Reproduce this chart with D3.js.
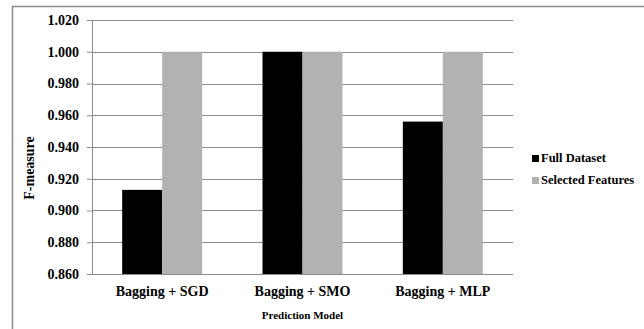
<!DOCTYPE html>
<html>
<head>
<meta charset="utf-8">
<script src="https://cdn.jsdelivr.net/npm/d3@7"></script>
<style>
  body { margin: 0; background: #fff; }
  svg text { font-family: 'Liberation Serif', 'Times New Roman', 'DejaVu Serif', serif !important; font-weight: bold; fill: #000; }
</style>
</head>
<body>
<div id="chart"></div>
<script>
// chart data
const categories = ['Bagging + SGD', 'Bagging + SMO', 'Bagging + MLP'];
const seriesNames = ['Full Dataset', 'Selected Features'];
const fullDataset = [0.913, 1.000, 0.956];
const selectedFeatures = [1.000, 1.000, 1.000];
const yTicks = [0.860, 0.880, 0.900, 0.920, 0.940, 0.960, 0.980, 1.000, 1.020];
const colors = ['#000000', '#b2b2b2'];

const width = 644, height = 329;
const margin = { left: 92, top: 20, right: 131, bottom: 55 };
const serif = "'Liberation Serif', 'Times New Roman', serif";

const svg = d3.select('#chart').append('svg')
  .attr('width', width)
  .attr('height', height)
  .attr('font-family', serif);

// outer frame
svg.append('rect')
  .attr('x', 12.5).attr('y', 6.5)
  .attr('width', width + 20).attr('height', height + 20)
  .attr('fill', 'none')
  .attr('stroke', '#8c8c8c')
  .attr('stroke-width', 1.5);

const x0 = d3.scaleBand()
  .domain(categories)
  .range([margin.left, width - margin.right])
  .paddingInner(0.43)
  .paddingOuter(0.215);

const x1 = d3.scaleBand()
  .domain(seriesNames)
  .range([0, x0.bandwidth()]);

const y = d3.scaleLinear()
  .domain([0.86, 1.02])
  .range([height - margin.bottom, margin.top]);

// gridlines
svg.append('g')
  .selectAll('line')
  .data(yTicks)
  .join('line')
  .attr('x1', margin.left)
  .attr('x2', width - margin.right)
  .attr('y1', d => Math.round(y(d)) + 0.5)
  .attr('y2', d => Math.round(y(d)) + 0.5)
  .attr('stroke', '#8c8c8c')
  .attr('stroke-width', 1);

// bars
const rows = categories.map((c, i) => ({ cat: c, vals: [fullDataset[i], selectedFeatures[i]] }));
svg.append('g')
  .selectAll('g')
  .data(rows)
  .join('g')
  .attr('transform', d => `translate(${x0(d.cat)},0)`)
  .selectAll('rect')
  .data(d => d.vals.map((v, j) => ({ key: seriesNames[j], v, j })))
  .join('rect')
  .attr('x', d => x1(d.key))
  .attr('width', x1.bandwidth())
  .attr('y', d => y(d.v))
  .attr('height', d => y(0.86) - y(d.v))
  .attr('fill', d => colors[d.j]);

// y axis
const yAxis = svg.append('g')
  .attr('transform', `translate(${margin.left},0)`)
  .call(d3.axisLeft(y).tickValues(yTicks).tickFormat(d3.format('.3f')).tickSize(5).tickPadding(8))
  .attr('font-family', serif);
yAxis.select('.domain').attr('stroke', '#8c8c8c');
yAxis.selectAll('.tick line').attr('stroke', '#8c8c8c');
yAxis.selectAll('text')
  .style('font-size', '14px');

// x axis baseline
svg.append('line')
  .attr('x1', margin.left).attr('x2', width - margin.right)
  .attr('y1', y(0.86) + 0.5).attr('y2', y(0.86) + 0.5)
  .attr('stroke', '#8c8c8c');

// category labels
svg.append('g')
  .selectAll('text')
  .data(categories)
  .join('text')
  .attr('x', d => x0(d) + x0.bandwidth() / 2)
  .attr('y', 296)
  .attr('text-anchor', 'middle')
  .style('font-size', '14px')
  .text(d => d);

// axis titles
svg.append('text')
  .attr('x', (margin.left + width - margin.right) / 2)
  .attr('y', 319)
  .attr('text-anchor', 'middle')
  .style('font-size', '11px')
  .text('Prediction Model');

svg.append('text')
  .attr('transform', 'translate(34,168) rotate(-90)')
  .attr('text-anchor', 'middle')
  .style('font-size', '14px')
  .text('F-measure');

// legend
const legend = svg.append('g').attr('transform', 'translate(532,155)');
seriesNames.forEach((name, i) => {
  const item = legend.append('g').attr('transform', `translate(0, ${i * 22})`);
  item.append('rect')
    .attr('width', 7).attr('height', 7)
    .attr('fill', colors[i]);
  item.append('text')
    .attr('x', 9).attr('y', 7)
    .style('font-size', '12.5px')
    .text(name);
});
</script>
</body>
</html>
